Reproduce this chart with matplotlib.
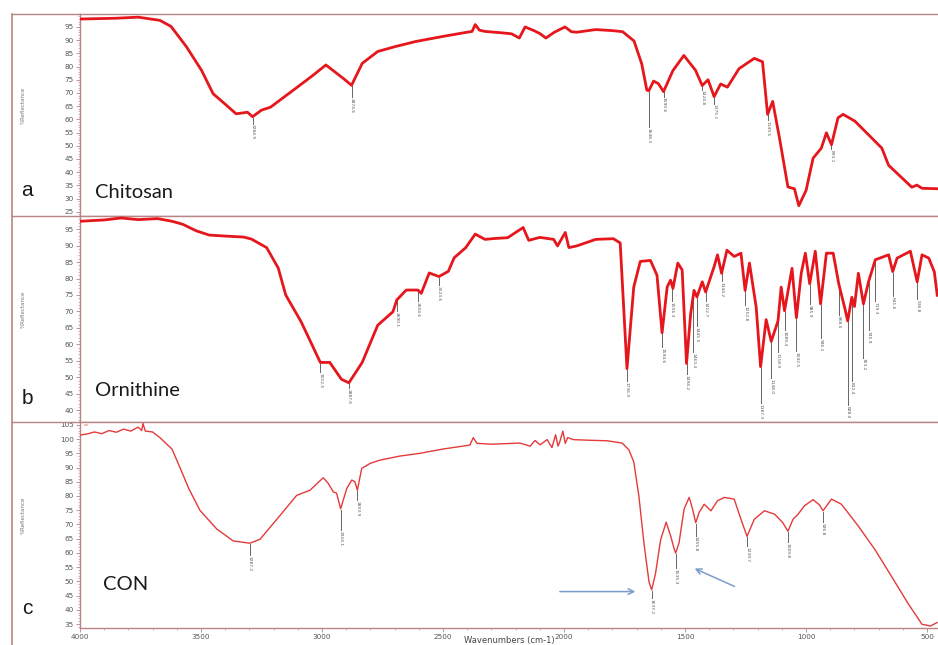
import numpy as np
import matplotlib
matplotlib.use('Agg')
import matplotlib.pyplot as plt
from matplotlib.ticker import MultipleLocator
from matplotlib.lines import Line2D

# --- spectrum a : chitosan
a_wn = [4000, 3850, 3760, 3700, 3670, 3624, 3561, 3498, 3450, 3402, 3355, 3308, 3287, 3250, 3213,
        3102, 3040, 2984, 2912, 2878, 2834, 2770, 2700, 2612, 2501, 2407, 2380, 2367, 2350, 2327,
        2260, 2217, 2185, 2161, 2122, 2100, 2075, 2040, 1996, 1970, 1948, 1869, 1800, 1758, 1711,
        1679, 1658, 1650, 1630, 1610, 1589, 1550, 1505, 1457, 1429, 1405, 1380, 1353, 1325, 1277,
        1214, 1180, 1159, 1138, 1110, 1075, 1048, 1030, 1000, 971, 937, 916, 895, 868, 847, 798,
        687, 659, 563, 542, 521, 447]
a_val = [98.0, 98.3, 98.7, 97.9, 97.5, 95.2, 87.6, 78.6, 69.7, 65.9, 62.1, 62.7, 61.0, 63.5, 64.6,
         72.2, 76.5, 80.6, 75.5, 72.9, 81.2, 85.7, 87.5, 89.5, 91.4, 92.9, 93.3, 95.9, 93.8, 93.3,
         92.8, 92.4, 90.8, 95.0, 93.5, 92.5, 90.8, 93.0, 95.0, 93.2, 93.0, 94.0, 93.6, 93.2, 89.7,
         81.0, 71.1, 70.8, 74.5, 73.5, 70.5, 78.5, 84.2, 78.6, 72.8, 75.0, 68.6, 73.4, 72.2, 79.2,
         83.1, 81.8, 61.9, 66.8, 53.0, 34.4, 33.7, 27.3, 33.1, 45.3, 49.1, 54.9, 50.4, 60.6, 61.9, 59.3,
         49.1, 42.6, 34.3, 35.1, 33.9, 33.7]
a_peaks = [3287, 2878, 1650, 1589, 1429, 1380, 1159, 895]
a_peak_txt = ['3284.9', '2874.6', '1648.3', '1590.6', '1424.8', '1375.1', '1149.5', '893.1']
a_peak_lab = [58.1, 68.2, 56.8, 68.3, 71.0, 65.7, 59.3, 48.4]

# --- spectrum b : ornithine
b_wn = [4000, 3900, 3830, 3760, 3679, 3620, 3576, 3520, 3466, 3400, 3324, 3292, 3229, 3181, 3150,
        3086, 3007, 2968, 2920, 2889, 2834, 2770, 2707, 2691, 2652, 2604, 2590, 2557, 2517, 2478,
        2454, 2406, 2367, 2327, 2280, 2233, 2169, 2146, 2100, 2043, 2027, 1995, 1980, 1948, 1869,
        1796, 1768, 1740, 1712, 1685, 1643, 1616, 1595, 1574, 1560, 1550, 1530, 1512, 1494, 1477,
        1463, 1451, 1429, 1415, 1380, 1366, 1349, 1327, 1297, 1269, 1252, 1234, 1206, 1188, 1165,
        1144, 1116, 1103, 1089, 1058, 1040, 1020, 1003, 985, 962, 940, 916, 888, 865, 840, 828,
        811, 800, 784, 763, 742, 714, 659, 642, 624, 569, 541, 521, 493, 470, 458]
b_val = [97.4, 97.8, 98.4, 97.9, 98.2, 97.4, 96.5, 94.5, 93.2, 92.9, 92.6, 92.0, 89.4, 83.2, 75.0,
         66.8, 54.5, 54.5, 49.4, 48.3, 54.5, 65.8, 69.9, 73.5, 76.5, 76.5, 75.5, 81.7, 80.6, 82.2,
         86.3, 89.4, 93.5, 91.9, 92.2, 92.4, 95.5, 91.6, 92.5, 91.9, 89.9, 94.0, 89.4, 89.9, 91.9,
         92.1, 90.8, 52.6, 77.4, 85.2, 85.5, 81.0, 63.5, 77.4, 79.5, 77.0, 84.7, 82.6, 54.2, 69.2,
         76.4, 74.4, 79.0, 75.9, 83.6, 87.2, 81.6, 88.6, 86.7, 87.7, 76.4, 84.7, 71.2, 53.2, 67.5,
         60.9, 67.1, 77.4, 70.2, 83.1, 68.1, 81.6, 87.7, 78.4, 88.3, 72.3, 87.7, 87.7, 78.4, 71.0, 67.1,
         74.3, 71.5, 81.6, 72.3, 79.0, 85.7, 87.2, 82.1, 86.2, 88.3, 79.0, 87.2, 86.2, 82.0, 74.9]
b_peaks = [3007, 2889, 2691, 2604, 2517, 1740, 1595, 1556, 1494, 1466, 1451, 1415, 1349, 1252,
           1188, 1144, 1116, 1089, 1040, 985, 940, 865, 828, 811, 763, 742, 714, 642, 541]
b_peak_txt = ['3012.5', '2887.6', '2690.1', '2604.6', '2523.6', '1736.9', '1594.6', '1556.3',
              '1494.2', '1463.4', '1445.5', '1412.7', '1344.2', '1252.8', '1187.3', '1148.0',
              '1118.9', '1089.4', '1042.5', '985.9', '936.1', '868.5', '828.0', '812.4', '763.2',
              '745.9', '719.3', '641.6', '536.8']
b_peak_lab = [51.4, 46.4, 69.9, 73.0, 77.6, 48.5, 58.8, 72.8, 50.7, 57.3, 65.2, 72.8, 79.0, 71.7,
              41.8, 49.5, 57.3, 64.0, 57.8, 72.0, 61.5, 68.6, 41.3, 48.5, 55.7, 64.0, 72.8, 74.4, 73.5]

# --- spectrum c : CON
c_wn = [4000, 3970, 3940, 3910, 3880, 3850, 3820, 3790, 3760, 3745, 3740, 3730, 3700, 3670, 3620,
        3587, 3550, 3504, 3435, 3367, 3298, 3256, 3174, 3105, 3050, 2995, 2974, 2953, 2940, 2923,
        2898, 2877, 2864, 2854, 2836, 2800, 2760, 2680, 2595, 2500, 2420, 2389, 2375, 2360, 2300,
        2182, 2140, 2120, 2099, 2070, 2050, 2035, 2025, 2017, 2005, 1995, 1985, 1961, 1900, 1822,
        1760, 1732, 1712, 1691, 1670, 1649, 1638, 1622, 1601, 1578, 1559, 1546, 1539, 1525, 1504,
        1483, 1469, 1456, 1442, 1421, 1393, 1366, 1338, 1297, 1269, 1244, 1214, 1172, 1130, 1096,
        1075, 1054, 1033, 1006, 971, 944, 930, 895, 854, 784, 715, 646, 577, 521, 486, 459]
c_val = [101.4, 101.8, 102.5, 101.9, 103.0, 102.4, 103.5, 102.8, 104.2, 103.0, 105.5, 102.8, 102.5,
         100.5, 96.5, 90.0, 82.5, 74.9, 68.4, 64.2, 63.4, 64.8, 73.1, 80.2, 82.0, 86.4, 84.4, 81.4,
         81.0, 75.5, 82.6, 85.6, 85.0, 82.0, 89.7, 91.5, 92.6, 94.0, 95.0, 96.5, 97.5, 97.9, 100.5,
         98.5, 98.2, 98.6, 97.5, 99.5, 98.0, 99.8, 97.0, 101.5, 97.5, 99.2, 102.8, 98.5, 100.5, 99.8,
         99.6, 99.4, 98.6, 96.2, 92.0, 80.1, 63.5, 49.8, 47.0, 52.8, 64.6, 70.8, 65.8, 61.7, 59.9,
         63.5, 75.4, 79.5, 75.4, 70.6, 74.2, 77.1, 74.8, 78.3, 79.5, 78.9, 71.8, 65.8, 71.8, 74.8,
         73.6, 70.6, 67.6, 71.8, 73.6, 76.6, 78.7, 76.8, 74.8, 78.9, 77.1, 69.4, 61.1, 51.6, 42.0,
         34.9, 34.3, 35.5]
c_peaks = [3298, 2923, 2854, 1638, 1539, 1456, 1244, 1075, 930]
c_peak_txt = ['3287.2', '2924.1', '2853.9', '1637.2', '1535.3', '1455.8', '1239.7', '1069.8', '926.8']
c_peak_lab = [58.9, 67.8, 78.4, 43.9, 54.5, 65.8, 62.2, 63.4, 70.6]

names = ['Chitosan', 'Ornithine', 'CON']
letters = ['a', 'b', 'c']
x_ticks = [4000, 3500, 3000, 2500, 2000, 1500, 1000, 500]

W, H = 938, 645
frame_col = '#b98484'
tick_col = '#555555'


def rect(x0, y0, x1, y1):
    return [x0 / W, 1 - y1 / H, (x1 - x0) / W, (y1 - y0) / H]


fig = plt.figure(figsize=(W / 100, H / 100), dpi=100)
fig.patch.set_facecolor('white')

# pixel boxes of the three panels and their y ranges
boxes = [(14, 216), (216, 422), (422, 628)]
ylims = [(23.4, 99.9), (36.4, 99.0), (33.6, 106.0)]
spectra = [(a_wn, a_val, a_peaks, a_peak_txt, a_peak_lab),
           (b_wn, b_val, b_peaks, b_peak_txt, b_peak_lab),
           (c_wn, c_val, c_peaks, c_peak_txt, c_peak_lab)]
line_styles = [('#e5161c', 2.0), ('#e5161c', 2.0), ('#e43a3a', 1.0)]
name_pos = [(95, 193), (95, 391), (103, 584)]
letter_pos = [(27, 191), (27, 398), (27, 608)]

axes = []
for i in range(3):
    y0, y1 = boxes[i]
    ax = fig.add_axes(rect(80, y0, 945, y1))
    wn, val, pk, pk_txt, pk_lab = spectra[i]
    col, lw = line_styles[i]
    ax.plot(wn, val, color=col, lw=lw, solid_joinstyle='round', zorder=3)

    # peak markers with leader lines
    xp = np.array(wn)[::-1]
    yp = np.array(val)[::-1]
    for w, t, yl in zip(pk, pk_txt, pk_lab):
        yc = np.interp(w, xp, yp)
        ax.plot([w, w], [yc - 0.3, yl + 0.3], color='#666666', lw=0.7, zorder=2)
        ax.text(w, yl, t, rotation=270, ha='center', va='top', fontsize=3.2,
                color='#555555', zorder=4)

    ax.set_xlim(4000, 426)
    ax.set_ylim(*ylims[i])
    ax.yaxis.set_major_locator(MultipleLocator(5))
    ax.yaxis.set_minor_locator(MultipleLocator(1))
    ax.tick_params(axis='y', which='major', length=3, width=0.6, colors=frame_col,
                   labelcolor=tick_col, labelsize=5.2, pad=1.5)
    ax.tick_params(axis='y', which='minor', length=1.5, width=0.4, colors=frame_col)
    for s in ['left', 'top', 'bottom']:
        ax.spines[s].set_color(frame_col)
        ax.spines[s].set_linewidth(1.0)
    ax.spines['right'].set_visible(False)
    if i < 2:
        ax.tick_params(axis='x', which='both', bottom=False, labelbottom=False)
    else:
        ax.set_xticks(x_ticks)
        ax.xaxis.set_minor_locator(MultipleLocator(100))
        ax.tick_params(axis='x', which='major', length=3, width=0.6, colors=frame_col,
                       labelcolor=tick_col, labelsize=5.2, pad=1.5)
        ax.tick_params(axis='x', which='minor', length=1.5, width=0.4, colors=frame_col)
    ax.set_facecolor('white')

    fig.text(23 / W, 1 - ((y0 + y1) / 2 - 10) / H, '%Reflectance', rotation=90, fontsize=4,
             color='#777777', ha='center', va='center')
    nx, ny = name_pos[i]
    fig.text(nx / W, 1 - ny / H, names[i], fontsize=14.5, family='Lato', color='#1a1a1a',
             ha='left', va='center')
    lx, ly = letter_pos[i]
    fig.text(lx / W, 1 - ly / H, letters[i], fontsize=15, family='Liberation Sans',
             color='#1a1a1a', ha='center', va='center')
    axes.append(ax)

# outer frame: left edge and the short pieces left of the plot axes
for yy in [14, 216, 422]:
    fig.add_artist(Line2D([12 / W, 80 / W], [1 - yy / H, 1 - yy / H], color=frame_col, lw=1.0))
fig.add_artist(Line2D([12 / W, 12 / W], [1 - 14 / H, 0], color=frame_col, lw=1.2))

axc = axes[2]
axc.text(3985, 105.0, 'co', fontsize=3, color='#e43a3a', va='center')
axc.annotate('', xy=(1694, 46.4), xytext=(2029, 46.4),
             arrowprops=dict(arrowstyle='->', color='#7c9ccb', lw=1.1))
axc.annotate('', xy=(1471, 54.9), xytext=(1285, 47.8),
             arrowprops=dict(arrowstyle='->', color='#7c9ccb', lw=1.1))
fig.text(509 / W, 1 - 641 / H, 'Wavenumbers (cm-1)', fontsize=6, color='#444444',
         ha='center', va='center')

fig.savefig('out.png', dpi=100)
